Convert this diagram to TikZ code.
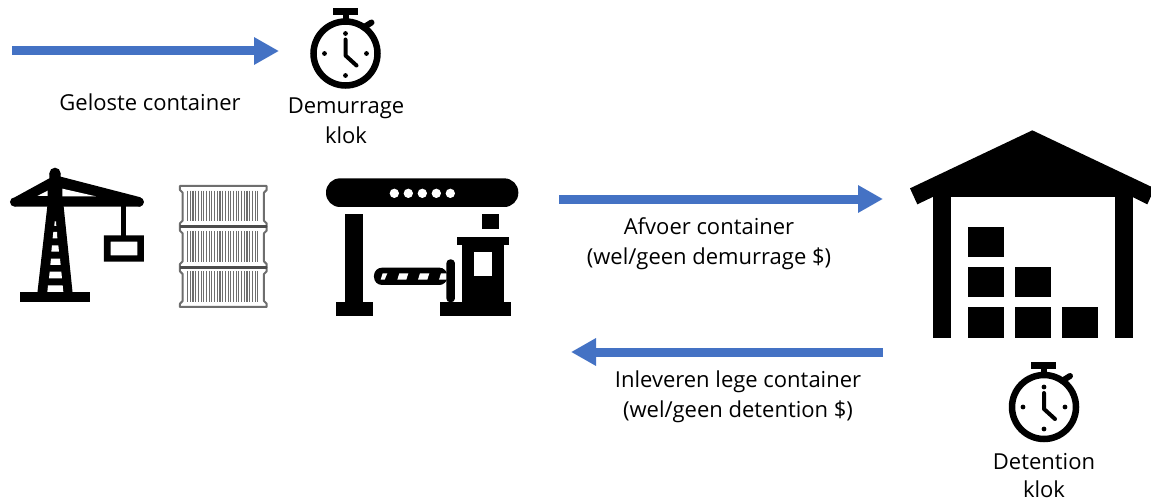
\documentclass[tikz,border=0pt]{standalone}
\usepackage{fontspec}
\setmainfont{Open Sans}
\usetikzlibrary{arrows.meta}
\definecolor{flow}{HTML}{4472C4}
\definecolor{ctr}{HTML}{6E6E6E}
\tikzset{
  flowarrow/.style={draw=flow,line width=9pt,-{Triangle[length=25pt,width=26pt]}},
  lbl/.style={font=\fontsize{22}{30}\selectfont,align=center,inner sep=0pt,text=black},
  lbltight/.style={font=\fontsize{22}{28}\selectfont,align=center,inner sep=0pt,text=black},
  pics/stopwatch/.style={code={
    \fill (-13,-45) rectangle (12,-38.5);
    \fill (-3,-40) rectangle (3,-32);
    \draw[line width=6pt,line cap=round] (18,-26) -- (26,-31);
    \draw[line width=6.5pt] (0,0) circle (32);
    \fill (0,-20) circle (2.4); \fill (0,22) circle (2.4);
    \fill (-21,0) circle (2.4); \fill (21,0) circle (2.4);
    \draw[line width=4pt,line cap=round,line join=round] (0,-14) -- (0,2) -- (11,12);
  }}
}
\begin{document}
\begin{tikzpicture}[x=1pt,y=-1pt]
\useasboundingbox (0,0) rectangle (1151,503);
\clip (0,0) rectangle (1151,503);
% stopwatches
\pic at (345.5,53.5) {stopwatch};
\pic at (1044,407) {stopwatch};
% crane
\begin{scope}[shift={(0,160)},x=0.3333pt,y=-0.3333pt]
  \fill (165,40) circle (17);
  \fill (148,40) -- (182,40) -- (182,50) -- (422,112) -- (422,140) -- (44,140) -- (44,112) -- (148,55) -- cycle;
  \fill (44,126) circle (14); \fill (418,126) circle (14);
  \fill[white] (112,108) -- (143,92) -- (143,108) -- cycle;
  \fill[white] (187,86) -- (288,109) -- (187,109) -- cycle;
  \fill (143,130) -- (190,130) -- (218,400) -- (112,400) -- cycle;
  \fill (60,396) rectangle (270,426);
  \fill[white] (164,184) -- (168,184) -- (169,198) -- (163,198) -- cycle;
  \fill[white] (160,216) -- (171,216) -- (172,235) -- (158,235) -- cycle;
  \fill[white] (156,256) -- (175,256) -- (177,275) -- (154,275) -- cycle;
  \fill[white] (153,296) -- (180,296) -- (182,315) -- (151,315) -- cycle;
  \fill[white] (149,335) -- (184,335) -- (186,355) -- (147,355) -- cycle;
  \fill[white] (144,376) -- (188,376) -- (190,396) -- (142,396) -- cycle;
  \fill (362,135) rectangle (379,228);
  \fill[even odd rule] (312,226) rectangle (432,305) (332,245) rectangle (412,286);
\end{scope}
% container stack
\begin{scope}[shift={(0,160)},x=0.3333pt,y=-0.3333pt]
  \foreach \t/\b in {78/200,200/322,322/441}{
    \draw[ctr,line width=2pt,fill=white,line join=round] (540,\t) -- (800,\t) -- (800,\t+12) -- (792,\t+20)
      -- (792,\b-18) -- (800,\b-10) -- (800,\b) -- (540,\b) -- (540,\b-10) -- (548,\b-18) -- (548,\t+20) -- (540,\t+12) -- cycle;
  }
  \draw[black!70,line width=2.5pt] (540,200) -- (800,200) (540,322) -- (800,322);
  \foreach \t/\b in {92/184,213/305,333/426}{
    \foreach \i in {0,...,26}{
      \draw[ctr,line width=1.1pt] (563+\i*8.1,\t) -- (563+\i*8.1,\b);
    }
  }
\end{scope}
% gate
\begin{scope}[shift={(310,165)},x=0.3333pt,y=-0.3333pt]
  \fill[rounded corners=14pt] (48,40) rectangle (625,126);
  \foreach \x in {253,295,337,379,421}{\fill[white] (\x,85) circle (14);}
  \fill (106,148) rectangle (158,412);
  \fill (78,410) rectangle (188,452);
  \fill (516,148) rectangle (567,193);
  \fill (442,215) rectangle (597,240);
  \fill (457,238) rectangle (582,412);
  \fill[white] (492,262) rectangle (545,333);
  \fill (389,410) rectangle (604,452);
  \fill[rounded corners=4pt] (409,412) -- (409,283) -- (435,283) -- (435,412) -- cycle;
  \fill[rounded corners=8pt] (240,308) -- (192,308) -- (192,360) -- (412,360) -- (412,308) -- cycle;
  \fill[white] (218,325) -- (232,325) -- (224,344) -- (212,344) -- cycle;
  \fill[white] (268,325) -- (295,325) -- (289,344) -- (262,344) -- cycle;
  \fill[white] (330,325) -- (358,325) -- (352,344) -- (324,344) -- cycle;
  \fill[white] (393,325) -- (409,325) -- (409,344) -- (387,344) -- cycle;
\end{scope}
% warehouse
\begin{scope}[shift={(900,120)},x=0.3333pt,y=-0.3333pt]
  \fill (397,31) -- (764,205) -- (742,253) -- (698,231) -- (98,231) -- (52,253) -- (30,205) -- cycle;
  \fill (98,225) rectangle (152,653);
  \fill (645,225) rectangle (699,653);
  \foreach \x/\y in {203/320,203/440,203/562,344/440,344/562,486/562}{
    \fill (\x,\y) rectangle ++(108,91);
  }
\end{scope}
% arrows
\coordinate (a1s) at (12,51); \coordinate (a1e) at (279,51);
\coordinate (a2s) at (559,199); \coordinate (a2e) at (883,199);
\coordinate (a3s) at (883,352); \coordinate (a3e) at (571,352);
\draw[flowarrow] (a1s) -- (a1e);
\draw[flowarrow] (a2s) -- (a2e);
\draw[flowarrow] (a3s) -- (a3e);
% labels
\node[lbl] (t1) at (150,102) {Geloste container};
\node[lbl] (t2) at (346,121) {Demurrage\\klok};
\node[lbl] (t3) at (709,244) {Afvoer container\\(wel/geen demurrage \$)};
\node[lbl] (t4) at (738,397) {Inleveren lege container\\(wel/geen detention \$)};
\node[lbltight] (t5) at (1044,476) {Detention\\klok};
\end{tikzpicture}
\end{document}
